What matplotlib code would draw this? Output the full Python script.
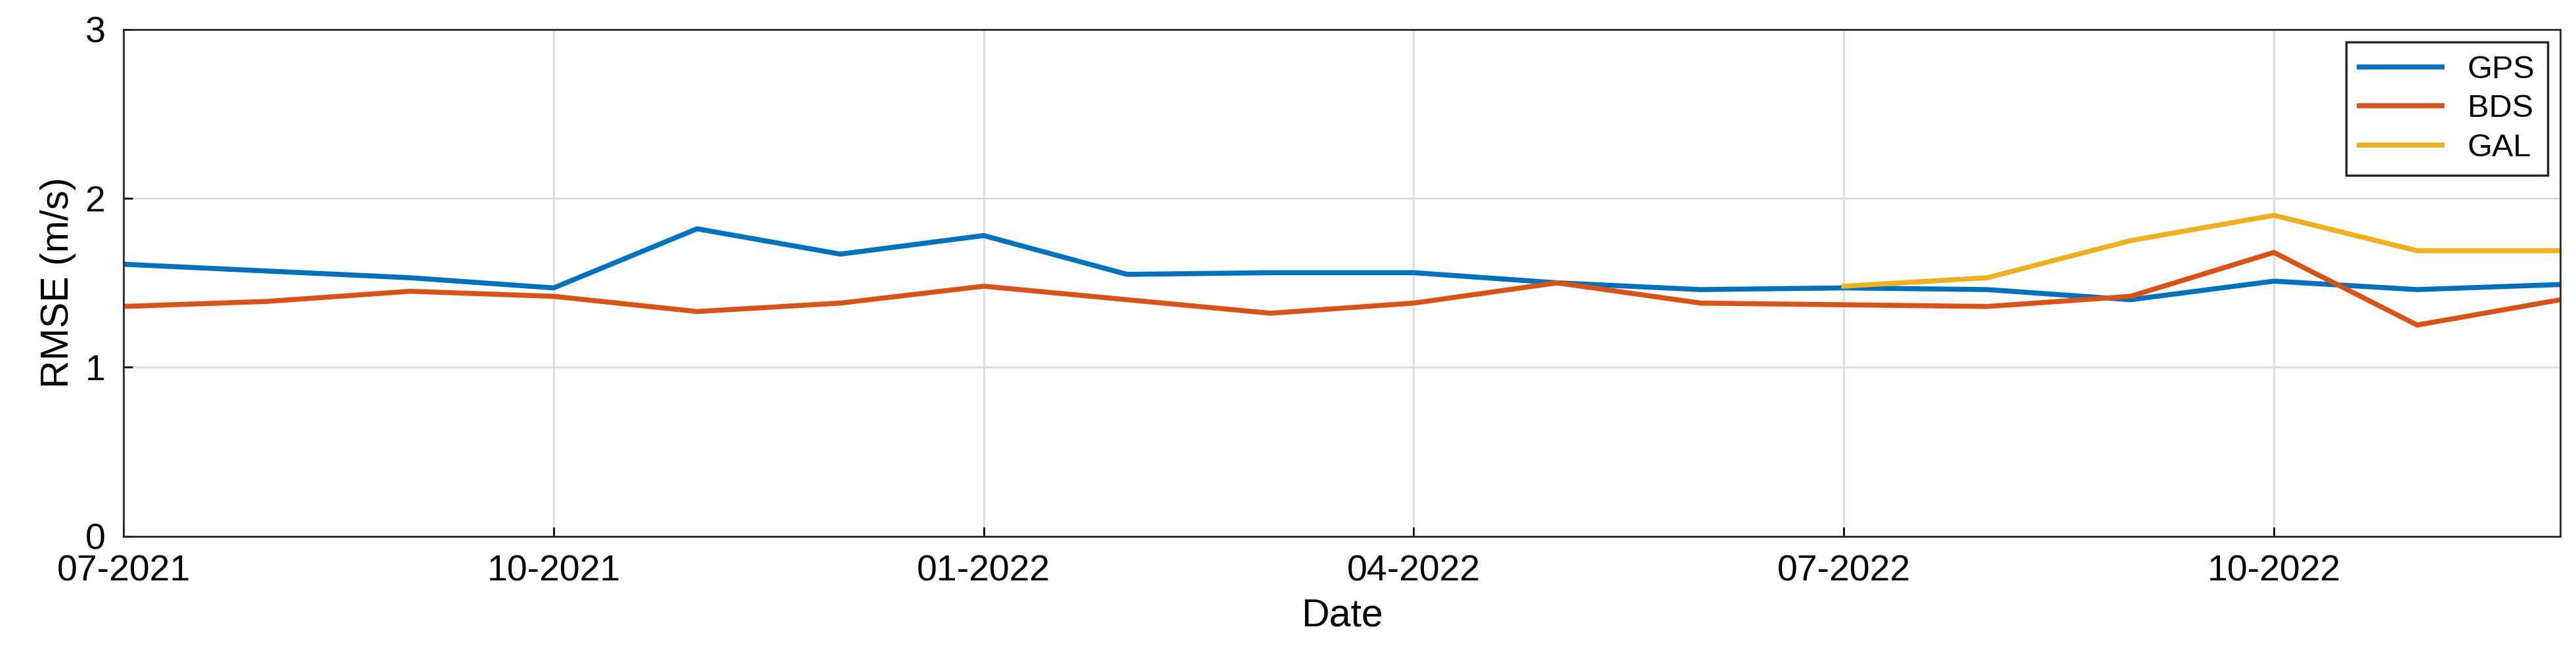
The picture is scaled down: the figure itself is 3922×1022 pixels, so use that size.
import matplotlib
matplotlib.use("Agg")
import matplotlib.pyplot as plt
plt.rcParams['font.family'] = ['Liberation Sans', 'DejaVu Sans']

months = list(range(18))
tick_pos = [0, 3, 6, 9, 12, 15]
tick_labels = ["07-2021", "10-2021", "01-2022", "04-2022", "07-2022", "10-2022"]
gps = [1.61, 1.57, 1.53, 1.47, 1.82, 1.67, 1.78, 1.55, 1.56, 1.56, 1.50, 1.46, 1.47, 1.46, 1.40, 1.51, 1.46, 1.49]
bds = [1.36, 1.39, 1.45, 1.42, 1.33, 1.38, 1.48, 1.40, 1.32, 1.38, 1.50, 1.38, 1.37, 1.36, 1.42, 1.68, 1.25, 1.40]
gal_months = [12, 13, 14, 15, 16, 17]
gal = [1.48, 1.53, 1.75, 1.90, 1.69, 1.69]

fig = plt.figure(figsize=(15.688, 4.088), dpi=250)
ax = fig.add_axes([0.048, 0.201, 0.946, 0.755])
ax.plot(months, gps, color="#0072BD", lw=2.2, label="GPS")
ax.plot(months, bds, color="#D95319", lw=2.2, label="BDS")
ax.plot(gal_months, gal, color="#EDB120", lw=2.2, label="GAL")
ax.set_xlim(0, 17)
ax.set_ylim(0, 3)
ax.set_yticks([0, 1, 2, 3])
ax.set_xticks(tick_pos)
ax.set_xticklabels(tick_labels)
ax.grid(True, color="#dcdcdc", lw=0.8)
ax.tick_params(labelsize=16, direction="in", length=4)
ax.tick_params(axis="x", pad=8)
ax.tick_params(axis="y", pad=8)
for s in ax.spines.values():
    s.set_color("#262626"); s.set_linewidth(0.8)
ax.set_xlabel("Date", fontsize=17)
ax.set_ylabel("RMSE (m/s)", fontsize=17)
leg = ax.legend(loc="upper right", fontsize=14, fancybox=False, framealpha=1,
                edgecolor="#262626", handlelength=2.6, borderaxespad=0.4, labelspacing=0.3)
fig.savefig("out.png", dpi=250)
